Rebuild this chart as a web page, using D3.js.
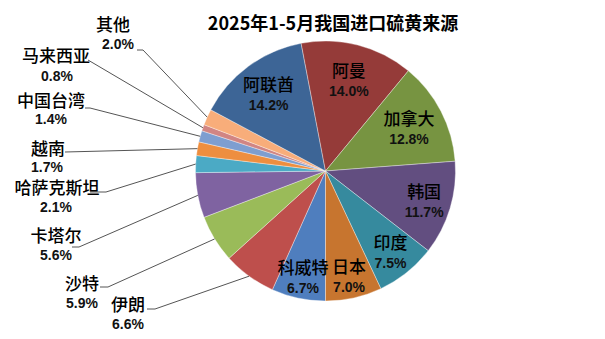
<!DOCTYPE html>
<html><head><meta charset="utf-8">
<script src="https://cdn.jsdelivr.net/npm/d3@7"></script>
<style>
html,body{margin:0;padding:0;background:#fff;}
svg{display:block;}
</style></head>
<body>
<svg id="chart" width="605" height="339"></svg>
<script>
// ---- data (Excel order, first slice at 180°) ----
const title = "2025年1-5月我国进口硫黄来源";
const categories = ["科威特","伊朗","沙特","卡塔尔","哈萨克斯坦","越南","中国台湾","马来西亚","其他","阿联酋","阿曼","加拿大","韩国","印度","日本"];
const values = [6.7,6.6,5.9,5.6,2.1,1.7,1.4,0.8,2.0,14.2,14.0,12.8,11.7,7.5,7.0];
const colors = ["#4F7EBE","#BE4F4C","#9ABB59","#7F63A1","#4BAAC5","#EE8E3F","#7E9ED0","#D18583","#F8AD7A","#3D6596","#953B39","#779441","#624E80","#368A9E","#C7752F"];

// ---- layout (styling only) ----
const cx = 325.5, cy = 171, R = 130;
const insideRadius = {"科威特":108,"阿联酋":96,"阿曼":94,"加拿大":94,"韩国":103,"印度":104,"日本":108};
const outsideLayout = {
  "伊朗":      {name:[128,303], pct:[128,324], line:[[147,309],[155,309]]},
  "沙特":      {name:[82,282],  pct:[82,303],  line:[[100,287],[108,287]]},
  "卡塔尔":    {name:[56,234],  pct:[56,255],  line:[[72,247],[79,247]]},
  "哈萨克斯坦":{name:[57,186],  pct:[56,207],  line:[[90,192],[106,192]]},
  "越南":      {name:[48,147],  pct:[47,167],  line:[[65,152],[65,152]]},
  "中国台湾":  {name:[51,99],   pct:[51,119],  line:[[85,108],[90,108]]},
  "马来西亚":  {name:[56,54],   pct:[57,76],   line:[[88,60],[88,60]]},
  "其他":      {name:[113,23],  pct:[118,44],  line:[[137,50],[143,50]]}
};

const nameFont = "'Noto Sans CJK SC','Noto Sans',sans-serif";
const pctFont = "'Liberation Sans',Arial,sans-serif";

const data = categories.map((c,i)=>({name:c, value:values[i], color:colors[i]}));
const svg = d3.select("#chart");

svg.append("text").attr("x",333).attr("y",22)
  .attr("text-anchor","middle").attr("dominant-baseline","central")
  .style("font-family",nameFont).style("font-weight","700").style("font-size","18px")
  .attr("fill","#000").text(title);

const pie = d3.pie().sort(null).value(d=>d.value).startAngle(Math.PI).endAngle(3*Math.PI);
const arcs = pie(data);
const arc = d3.arc().innerRadius(0).outerRadius(R);

const g = svg.append("g").attr("transform",`translate(${cx},${cy})`);
g.selectAll("path").data(arcs).join("path")
  .attr("d",arc).attr("fill",d=>d.data.color)
  .attr("stroke","#ffffff").attr("stroke-opacity",0.6).attr("stroke-width",0.6);

const fmt = v => v.toFixed(1) + "%";
const polar = (a,r) => [cx + r*Math.sin(a), cy - r*Math.cos(a)];

function label(x, y, txt, isPct){
  svg.append("text").attr("x",x).attr("y",y)
    .attr("text-anchor","middle").attr("dominant-baseline","central")
    .style("font-family", isPct ? pctFont : nameFont)
    .style("font-weight", isPct ? "700" : "500")
    .style("font-size", isPct ? "14px" : "17px")
    .attr("fill", isPct ? "#111" : "#000").text(txt);
}

arcs.forEach(d=>{
  const mid = (d.startAngle + d.endAngle)/2;
  const name = d.data.name;
  if (insideRadius[name] !== undefined){
    const [x,y] = polar(mid, insideRadius[name]);
    label(x, y-10.5, name, false);
    label(x, y+11, fmt(d.data.value), true);
  } else {
    const L = outsideLayout[name];
    const edge = polar(mid, R);
    svg.append("path")
      .attr("d", d3.line()([L.line[0], L.line[1], edge]))
      .attr("fill","none").attr("stroke","#555").attr("stroke-width",1);
    label(L.name[0], L.name[1], name, false);
    label(L.pct[0], L.pct[1], fmt(d.data.value), true);
  }
});
</script>
</body></html>
